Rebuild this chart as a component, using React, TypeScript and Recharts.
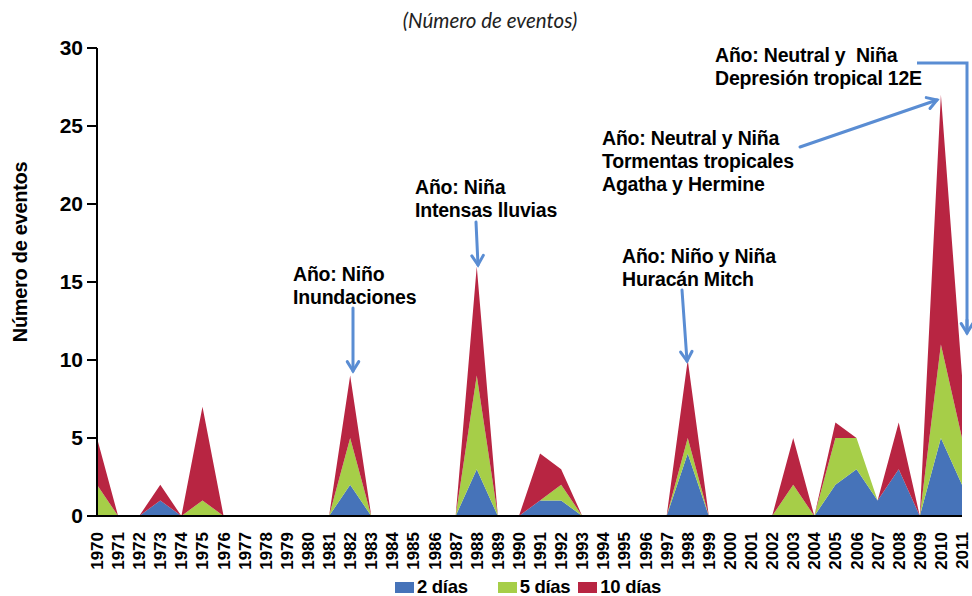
import React from 'react';
import { AreaChart, Area, XAxis, YAxis, Legend } from 'recharts';

document.body.style.margin = '0';

const yearList = [
  1970, 1971, 1972, 1973, 1974, 1975, 1976, 1977, 1978, 1979, 1980, 1981, 1982, 1983,
  1984, 1985, 1986, 1987, 1988, 1989, 1990, 1991, 1992, 1993, 1994, 1995, 1996, 1997,
  1998, 1999, 2000, 2001, 2002, 2003, 2004, 2005, 2006, 2007, 2008, 2009, 2010, 2011,
];

const dosDiasList = [
  0, 0, 0, 1, 0, 0, 0, 0, 0, 0, 0, 0, 2, 0,
  0, 0, 0, 0, 3, 0, 0, 1, 1, 0, 0, 0, 0, 0,
  4, 0, 0, 0, 0, 0, 0, 2, 3, 1, 3, 0, 5, 2,
];

const cincoDiasList = [
  2, 0, 0, 0, 0, 1, 0, 0, 0, 0, 0, 0, 3, 0,
  0, 0, 0, 0, 6, 0, 0, 0, 1, 0, 0, 0, 0, 0,
  1, 0, 0, 0, 0, 2, 0, 3, 2, 0, 0, 0, 6, 3,
];

const diezDiasList = [
  3, 0, 0, 1, 0, 6, 0, 0, 0, 0, 0, 0, 4, 0,
  0, 0, 0, 0, 7, 0, 0, 3, 1, 0, 0, 0, 0, 0,
  5, 0, 0, 0, 0, 3, 0, 1, 0, 0, 3, 0, 16, 4,
];

const yTickList = [0, 5, 10, 15, 20, 25, 30];
const serieNombreList = ['2 días', '5 días', '10 días'];

const eventosData = yearList.map((year, index) => ({
  year: String(year),
  dos: dosDiasList[index],
  cinco: cincoDiasList[index],
  diez: diezDiasList[index],
}));

const colorAzul = '#4673B9';
const colorVerde = '#A6CE48';
const colorRojo = '#B82542';
const colorFlecha = '#5A8DD3';

const fuenteBase = "'Liberation Sans', Arial, sans-serif";

function YearTick(props: any) {
  const { x, y, payload } = props;
  return (
    <text
      transform={`translate(${x + 6},${y + 8}) rotate(-90)`}
      textAnchor="end"
      fontFamily={fuenteBase}
      fontWeight="bold"
      fontSize={17}
      fill="#000"
    >
      {payload.value}
    </text>
  );
}

function LeyendaEventos(props: any) {
  const { payload } = props;
  const gapList = [0, 30, 8];
  const ordenados = [...payload].sort(
    (a: any, b: any) => serieNombreList.indexOf(a.value) - serieNombreList.indexOf(b.value),
  );
  return (
    <div
      style={{
        height: 30,
        display: 'flex',
        justifyContent: 'flex-start',
        paddingLeft: 358,
        paddingTop: 12,
        boxSizing: 'border-box',
        fontFamily: fuenteBase,
        fontWeight: 'bold',
        fontSize: 18.5,
        letterSpacing: -0.3,
        color: '#000',
      }}
    >
      {ordenados.map((entry: any, index: number) => (
        <div
          key={entry.value}
          style={{ display: 'flex', alignItems: 'center', marginLeft: gapList[index] }}
        >
          <span
            style={{ width: 19, height: 11, background: entry.color, marginRight: 3, display: 'inline-block' }}
          />
          <span style={{ lineHeight: '18px' }}>{entry.value}</span>
        </div>
      ))}
    </div>
  );
}

function Flecha({ x1, y1, x2, y2 }: { x1: number; y1: number; x2: number; y2: number }) {
  const angle = Math.atan2(y2 - y1, x2 - x1);
  const headLength = 11;
  const spread = 0.55;
  const ax = x2 - headLength * Math.cos(angle - spread);
  const ay = y2 - headLength * Math.sin(angle - spread);
  const bx = x2 - headLength * Math.cos(angle + spread);
  const by = y2 - headLength * Math.sin(angle + spread);
  return (
    <g stroke={colorFlecha} strokeWidth={3} fill="none" strokeLinecap="round">
      <line x1={x1} y1={y1} x2={x2} y2={y2} />
      <polyline points={`${ax},${ay} ${x2},${y2} ${bx},${by}`} />
    </g>
  );
}

function Nota({ x, y, lineList }: { x: number; y: number; lineList: string[] }) {
  return (
    <text
      x={x}
      y={y}
      fontFamily={fuenteBase}
      fontWeight="bold"
      fontSize={19.5}
      letterSpacing={-0.2}
      fill="#000"
      style={{ whiteSpace: 'pre' }}
    >
      {lineList.map((line, index) => (
        <tspan key={index} x={x} dy={index === 0 ? 0 : 23}>
          {line}
        </tspan>
      ))}
    </text>
  );
}

export default function App(): React.JSX.Element {
  return (
    <div style={{ position: 'relative', width: 972, height: 596, background: '#fff' }}>
      <AreaChart
        width={972}
        height={596}
        data={eventosData}
        margin={{ top: 48, right: 10, left: 37, bottom: 0 }}
      >
        <XAxis
          dataKey="year"
          interval={0}
          tickLine={false}
          axisLine={{ stroke: '#000', strokeWidth: 2 }}
          tick={<YearTick />}
          height={50}
        />
        <YAxis
          width={60}
          domain={[0, 30]}
          ticks={yTickList}
          tickSize={10}
          tickMargin={4}
          axisLine={{ stroke: '#000', strokeWidth: 2 }}
          tickLine={{ stroke: '#000', strokeWidth: 2 }}
          tick={{ fontFamily: fuenteBase, fontWeight: 'bold', fontSize: 21, fill: '#000' }}
        />
        <Legend verticalAlign="bottom" content={<LeyendaEventos />} />
        <Area
          type="linear"
          dataKey="dos"
          name={serieNombreList[0]}
          stackId="eventos"
          stroke="none"
          fill={colorAzul}
          fillOpacity={1}
          isAnimationActive={false}
        />
        <Area
          type="linear"
          dataKey="cinco"
          name={serieNombreList[1]}
          stackId="eventos"
          stroke="none"
          fill={colorVerde}
          fillOpacity={1}
          isAnimationActive={false}
        />
        <Area
          type="linear"
          dataKey="diez"
          name={serieNombreList[2]}
          stackId="eventos"
          stroke="none"
          fill={colorRojo}
          fillOpacity={1}
          isAnimationActive={false}
        />
      </AreaChart>
      <svg
        width={972}
        height={596}
        style={{ position: 'absolute', left: 0, top: 0, pointerEvents: 'none' }}
      >
        <text
          x={490}
          y={28}
          textAnchor="middle"
          fontFamily="Lato, 'Open Sans', sans-serif"
          fontStyle="italic"
          fontSize={20.5}
          fill="#222"
        >
          (Número de eventos)
        </text>
        <text
          transform="translate(27,252) rotate(-90)"
          textAnchor="middle"
          fontFamily={fuenteBase}
          fontWeight="bold"
          fontSize={20}
          letterSpacing={-0.3}
          fill="#000"
        >
          Número de eventos
        </text>

        <Nota x={293} y={281} lineList={['Año: Niño', 'Inundaciones']} />
        <Flecha x1={353} y1={308} x2={353} y2={371} />

        <Nota x={415} y={194} lineList={['Año: Niña', 'Intensas lluvias']} />
        <Flecha x1={476} y1={222} x2={478} y2={265} />

        <Nota x={622} y={263} lineList={['Año: Niño y Niña', 'Huracán Mitch']} />
        <Flecha x1={682} y1={290} x2={687} y2={361} />

        <Nota x={602} y={145} lineList={['Año: Neutral y Niña', 'Tormentas tropicales', 'Agatha y Hermine']} />
        <Flecha x1={800} y1={147} x2={937} y2={100} />

        <Nota x={715} y={62} lineList={['Año: Neutral y  Niña', 'Depresión tropical 12E']} />
        <polyline
          points="917,63 967,63 967,332"
          stroke={colorFlecha}
          strokeWidth={3}
          fill="none"
        />
        <Flecha x1={967} y1={320} x2={967} y2={333} />
      </svg>
    </div>
  );
}
